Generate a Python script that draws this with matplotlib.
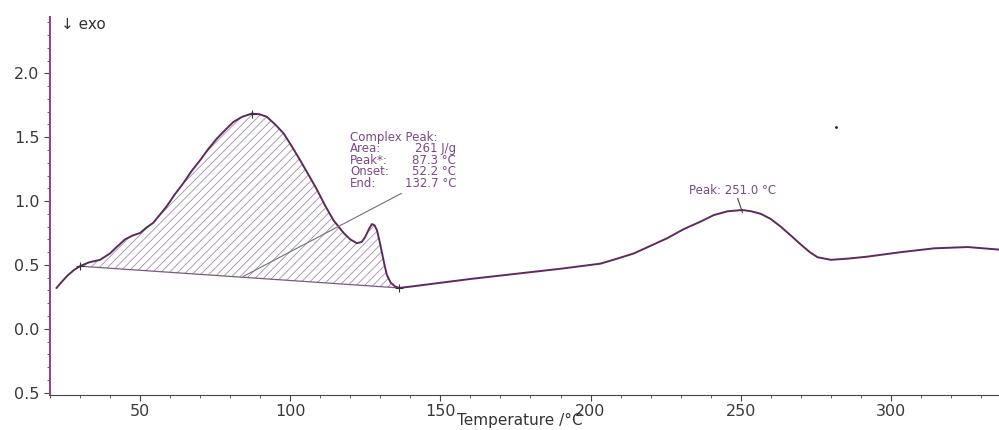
import matplotlib.pyplot as plt
from matplotlib.ticker import MultipleLocator, FixedLocator, FixedFormatter
import numpy as np

# DSC curve
temp = [22.2, 24, 26, 28, 30, 33, 36.7, 40, 42.2, 45, 47.5, 50, 52, 54.4, 56.5,
        58.9, 61.5, 64.4, 67, 70, 72.8, 75.6, 78.5, 81.1, 84, 87.2, 89.8, 92.2,
        95, 97.8, 100.5, 103.3, 106, 108.9, 111.5, 114.4, 117.8, 120, 122.2,
        123.8, 125, 126.2, 127.2, 128.1, 128.9, 129.8, 130.6, 131.4, 132.2,
        133.5, 135, 136.3, 140, 150, 160, 175, 190, 203.3, 209, 214.4, 220,
        225.6, 231, 236.7, 241, 245.6, 250.6, 253.5, 256.7, 260, 263.3, 266.7,
        270, 273, 275.6, 280, 286, 292.2, 303.3, 314.4, 325.6, 336]
dsc = [0.32, 0.37, 0.42, 0.46, 0.49, 0.52, 0.54, 0.59, 0.64, 0.70, 0.73, 0.75,
       0.79, 0.83, 0.89, 0.96, 1.05, 1.14, 1.23, 1.32, 1.41, 1.49, 1.56, 1.62,
       1.66, 1.685, 1.68, 1.66, 1.60, 1.53, 1.43, 1.32, 1.21, 1.09, 0.97, 0.85,
       0.75, 0.70, 0.67, 0.68, 0.72, 0.78, 0.82, 0.81, 0.77, 0.68, 0.59, 0.50,
       0.42, 0.36, 0.33, 0.32, 0.33, 0.36, 0.39, 0.43, 0.47, 0.51, 0.55, 0.59,
       0.65, 0.71, 0.78, 0.84, 0.89, 0.92, 0.93, 0.92, 0.90, 0.86, 0.80, 0.73,
       0.66, 0.60, 0.56, 0.54, 0.55, 0.565, 0.60, 0.63, 0.64, 0.62]

peak_start = (30, 0.49)
peak_end = (136.3, 0.32)
peak1 = (87.2, 1.685)
peak2 = (250.6, 0.93)
stray = (281.7, 1.58)

ytick_vals = [-0.5, 0.0, 0.5, 1.0, 1.5, 2.0]
ytick_labels = ['0.5', '0.0', '0.5', '1.0', '1.5', '2.0']

line_col = '#5e2a5e'
text_col = '#7a4a86'

fig = plt.figure(figsize=(9.99, 4.30), dpi=100)
ax = fig.add_axes([0.05, 0.081, 0.95, 0.879])

t = np.array(temp)
d = np.array(dsc)

# hatched peak area
m = (t >= peak_start[0]) & (t <= peak_end[0])
base = np.interp(t[m], [peak_start[0], peak_end[0]], [peak_start[1], peak_end[1]])
plt.rcParams['hatch.linewidth'] = 0.6
ax.fill_between(t[m], base, d[m], facecolor='none', edgecolor='#a090a6',
                hatch='////', linewidth=0)
ax.plot([peak_start[0], peak_end[0]], [peak_start[1], peak_end[1]],
        color='#7a5a80', lw=0.9)

ax.plot(t, d, color=line_col, lw=1.4, solid_joinstyle='round')

# markers
for px, py in [peak_start, peak_end, peak1]:
    ax.plot(px, py, marker='+', color='#333333', ms=6, mew=0.8)
ax.plot([249.0, peak2[0]], [1.02, peak2[1] - 0.02], color='#444444', lw=0.8)
ax.plot(stray[0], stray[1], marker='.', color='#222222', ms=2)

# annotation
ax.plot([84.4, 137], [0.41, 1.06], color='#7a6a80', lw=0.8)
labels = ['Complex Peak:', 'Area:', 'Peak*:', 'Onset:', 'End:']
values = ['', '261 J/g', '87.3 °C', '52.2 °C', '132.7 °C']
for i, (lab, val) in enumerate(zip(labels, values)):
    yy = 1.5 - i * 0.09
    ax.text(120, yy, lab, color=text_col, fontsize=8.5, va='center', ha='left')
    if val:
        ax.text(155.3, yy, val, color=text_col, fontsize=8.5, va='center',
                ha='right')
ax.text(232.7, 1.086, 'Peak: 251.0 °C', color=text_col, fontsize=8.5,
        va='center')

ax.text(0.012, 0.98, '↓ exo', transform=ax.transAxes, fontsize=11,
        color='#333333', va='center', ha='left')

ax.set_xlim(20, 336)
ax.set_ylim(-0.52, 2.44)
ax.xaxis.set_major_locator(MultipleLocator(50))
ax.xaxis.set_minor_locator(MultipleLocator(10))
ax.yaxis.set_major_locator(FixedLocator(ytick_vals))
ax.yaxis.set_major_formatter(FixedFormatter(ytick_labels))
ax.yaxis.set_minor_locator(MultipleLocator(0.1))

for s in ['top', 'right']:
    ax.spines[s].set_visible(False)
ax.spines['left'].set_color('#8a4a8a')
ax.spines['left'].set_linewidth(1.5)
ax.spines['bottom'].set_color('#444444')
ax.tick_params(axis='both', which='major', labelsize=11.5, labelcolor='#3a3a3a',
               length=4, color='#444444')
ax.tick_params(axis='both', which='minor', length=2.5, color='#444444')
ax.tick_params(axis='x', pad=2)

ax.set_xlabel('Temperature /°C', fontsize=11, color='#333333')
ax.xaxis.set_label_coords(0.495, -0.048)

fig.savefig('out.png', dpi=100)
